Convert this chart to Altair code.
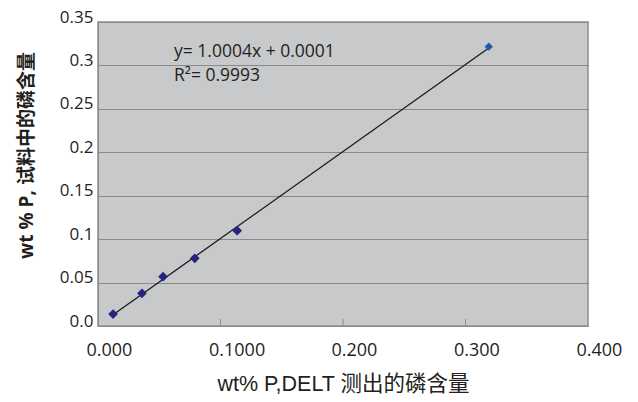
import altair as alt
import pandas as pd

# data
x_vals = [0.0123, 0.0359, 0.0531, 0.0790, 0.1136, 0.3190]
y_vals = [0.0138, 0.0376, 0.0568, 0.0779, 0.1097, 0.3216]
groups = ["a", "a", "a", "a", "a", "b"]

x_tick_values = [0.0, 0.1, 0.2, 0.3, 0.4]
x_tick_labels = ["0.000", "0.1000", "0.200", "0.300", "0.400"]
y_tick_values = [0.0, 0.05, 0.1, 0.15, 0.2, 0.25, 0.3, 0.35]
y_tick_labels = ["0.0", "0.05", "0.1", "0.15", "0.2", "0.25", "0.3", "0.35"]
inner_ticks = [0.1, 0.2, 0.3]

eq_line1 = "y= 1.0004x + 0.0001"
eq_line2 = "R\u00b2= 0.9993"
x_title = "wt% P,DELT 测出的磷含量"
y_title = "wt % P, 试料中的磷含量"

df = pd.DataFrame({"x": x_vals, "y": y_vals, "g": groups})
ticks_df = pd.DataFrame({"x": inner_ticks})

W, H = 490, 304
LATIN = "Open Sans, Noto Sans CJK SC"
ARIAL = "Liberation Sans, Noto Sans CJK SC"

x_label_expr = "[" + ",".join("'%s'" % s for s in x_tick_labels) + "][round(datum.value*10)]"
y_label_expr = "[" + ",".join("'%s'" % s for s in y_tick_labels) + "][round(datum.value*20)]"

x_scale = alt.Scale(domain=[0, 0.4], nice=False, zero=False)
y_scale = alt.Scale(domain=[0, 0.35], nice=False, zero=False)

x_axis = alt.Axis(
    values=x_tick_values, labelExpr=x_label_expr, grid=False, ticks=False, tickSize=0,
    domainColor="#8c8c8c", labelFont=LATIN, labelFontSize=18, labelColor="#231f20",
    labelAlign="left", labelOffset=-12, labelBaseline="alphabetic", labelPadding=29,
    title=x_title, titleFont=ARIAL, titleFontSize=21.5, titleFontWeight="normal",
    titleColor="#231f20", titleX=245, titleY=64, titleAlign="center",
    titleBaseline="alphabetic",
)
y_axis = alt.Axis(
    values=y_tick_values, labelExpr=y_label_expr, grid=True, gridColor="#8a8a8a",
    gridWidth=1, ticks=False, tickSize=0, domainColor="#8c8c8c",
    labelFont=LATIN, labelFontSize=17, labelColor="#231f20", labelBaseline="alphabetic",
    labelPadding=5, title=y_title, titleFont=LATIN, titleFontSize=19,
    titleFontWeight="bold", titleColor="#231f20", titleX=-72, titleY=133,
    titleAlign="center", titleBaseline="middle", titleAngle=-90,
)

base = alt.Chart(df)

points = base.mark_point(shape="diamond", filled=True, opacity=1).encode(
    x=alt.X("x:Q", scale=x_scale, axis=x_axis),
    y=alt.Y("y:Q", scale=y_scale, axis=y_axis),
    color=alt.Color("g:N", scale=alt.Scale(domain=["a", "b"], range=["#252580", "#1d5cab"]), legend=None),
    size=alt.Size("g:N", scale=alt.Scale(domain=["a", "b"], range=[95, 70]), legend=None),
)

fit = base.transform_regression("x", "y", method="linear").mark_line(
    color="#1a1a1a", strokeWidth=1.3
).encode(x=alt.X("x:Q", scale=x_scale), y=alt.Y("y:Q", scale=y_scale))

tick_marks = alt.Chart(ticks_df).mark_rule(color="#8c8c8c", strokeWidth=1).encode(
    x=alt.X("x:Q", scale=x_scale), y=alt.value(H - 7), y2=alt.value(H)
)

eq1 = alt.Chart(pd.DataFrame({"t": [eq_line1]})).mark_text(
    align="left", baseline="alphabetic", font=LATIN, fontSize=17.5, color="#231f20"
).encode(text="t:N", x=alt.value(76), y=alt.value(35))
eq2 = alt.Chart(pd.DataFrame({"t": [eq_line2]})).mark_text(
    align="left", baseline="alphabetic", font=LATIN, fontSize=17.5, color="#231f20"
).encode(text="t:N", x=alt.value(76), y=alt.value(59))

chart = alt.layer(tick_marks, fit, points, eq1, eq2).properties(
    width=W, height=H,
    background="white",
    autosize=alt.AutoSizeParams(type="none"),
    padding={"left": 90, "top": 14, "right": 40, "bottom": 68},
).configure_view(fill="#c8c9cb", stroke="#8c8c8c", strokeWidth=1.5)

chart.save("out.html", embed_options={"renderer": "svg", "actions": False})
